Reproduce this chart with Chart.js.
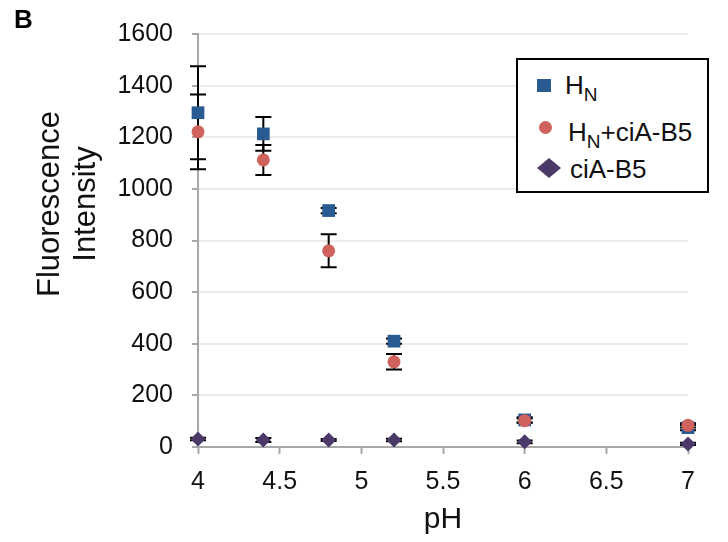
<!DOCTYPE html>
<html lang="en">
<head>
    <meta charset="UTF-8">
    <title>Fluorescence vs pH</title>
    <script src="https://cdn.jsdelivr.net/npm/chart.js"></script>
    <style>
        body {
            margin: 0;
            font-family: "Liberation Sans", Arial, sans-serif;
            background: #fff;
        }

        #wrap {
            position: relative;
            width: 728px;
            height: 542px;
        }

        #chart {
            position: absolute;
            left: 0;
            top: 0;
        }

        #panel {
            position: absolute;
            left: 14px;
            top: 4px;
            font-size: 26px;
            font-weight: bold;
            color: #000;
        }

        #legend {
            position: absolute;
            left: 516px;
            top: 58px;
            width: 189px;
            height: 131px;
            border: 2px solid #000;
            background: #fff;
        }

        .row {
            position: absolute;
            font-size: 26px;
            line-height: 28px;
            color: #111;
            white-space: nowrap;
        }

        .row span.sub {
            font-size: 19px;
            vertical-align: -7px;
        }

        .mark {
            position: absolute;
        }
    </style>
</head>
<body>

    <div id="wrap">
        <canvas id="chart" width="728" height="542"></canvas>
        <div id="panel">B</div>
        <div id="legend">
            <div class="mark" style="left:19px;top:19px;width:14px;height:13px;background:#2a5a92;"></div>
            <div class="row" style="left:47px;top:11px;">H<span class="sub">N</span></div>

            <div class="mark" style="left:21px;top:61px;width:13px;height:13px;border-radius:50%;background:#cf625c;"></div>
            <div class="row" style="left:50px;top:58px;">H<span class="sub">N</span>+ciA-B5</div>

            <div class="mark" style="left:19px;top:98px;width:24px;height:20px;background:#4b3a69;clip-path:polygon(50% 0,100% 50%,50% 100%,0 50%);"></div>
            <div class="row" style="left:52px;top:95px;">ciA-B5</div>
        </div>
    </div>

    <script>
        // pH values
        const phValues = [4, 4.4, 4.8, 5.2, 6, 7];

        // fluorescence intensity per series
        const hnValues = [1295, 1213, 916, 410, 105, 75];
        const hnCiaValues = [1221, 1112, 760, 330, 102, 84];
        const ciaValues = [31, 27, 27, 27, 20, 12];

        // error bar half widths
        const hnErrors = [180, 65, 10, 10, 10, 10];
        const hnCiaErrors = [145, 58, 64, 30, 8, 8];
        const ciaErrors = [5, 8, 4, 5, 5, 4];

        const yTicks = [0, 200, 400, 600, 800, 1000, 1200, 1400, 1600];

        const errorSets = [hnCiaErrors, hnErrors, ciaErrors];

        function toPoints(values) {
            return phValues.map((x, i) => ({ x: x, y: values[i] }));
        }

        // error bars are drawn under the markers
        const errorBars = {
            id: 'errorBars',
            beforeDatasetsDraw(chart) {
                const ctx = chart.ctx;
                const xs = chart.scales.x;
                const ys = chart.scales.y;
                ctx.save();
                ctx.strokeStyle = '#000';
                ctx.lineWidth = 2;
                chart.data.datasets.forEach((ds, d) => {
                    const errs = errorSets[d];
                    ds.data.forEach((p, i) => {
                        const px = xs.getPixelForValue(p.x);
                        const top = ys.getPixelForValue(p.y + errs[i]);
                        const bot = ys.getPixelForValue(p.y - errs[i]);
                        ctx.beginPath();
                        ctx.moveTo(px, top);
                        ctx.lineTo(px, bot);
                        ctx.moveTo(px - 8, top);
                        ctx.lineTo(px + 8, top);
                        ctx.moveTo(px - 8, bot);
                        ctx.lineTo(px + 8, bot);
                        ctx.stroke();
                    });
                });
                ctx.restore();
            }
        };

        // two line rotated y axis title
        const yTitle = {
            id: 'yTitle',
            afterDraw(chart) {
                const ctx = chart.ctx;
                ctx.save();
                ctx.fillStyle = '#111';
                ctx.font = '31px "Liberation Sans", Arial, sans-serif';
                ctx.textAlign = 'center';
                ctx.textBaseline = 'middle';
                ctx.translate(50, 204);
                ctx.rotate(-Math.PI / 2);
                ctx.fillText('Fluorescence', 0, 0);
                ctx.fillText('Intensity', 0, 36);
                ctx.restore();
            }
        };

        const tickFont = { family: '"Liberation Sans", Arial, sans-serif', size: 25 };

        new Chart(document.getElementById('chart').getContext('2d'), {
            type: 'scatter',
            data: {
                datasets: [
                    {
                        label: 'HN+ciA-B5',
                        data: toPoints(hnCiaValues),
                        pointStyle: 'circle',
                        pointRadius: 6.5,
                        backgroundColor: '#cf625c',
                        borderColor: '#cf625c',
                        borderWidth: 0,
                        clip: false
                    },
                    {
                        label: 'HN',
                        data: toPoints(hnValues),
                        pointStyle: 'rect',
                        pointRadius: 9,
                        backgroundColor: '#2a5a92',
                        borderColor: '#2a5a92',
                        borderWidth: 0,
                        clip: false
                    },
                    {
                        label: 'ciA-B5',
                        data: toPoints(ciaValues),
                        pointStyle: 'rectRot',
                        pointRadius: 7.5,
                        backgroundColor: '#4b3a69',
                        borderColor: '#4b3a69',
                        borderWidth: 0,
                        clip: false
                    }
                ]
            },
            options: {
                responsive: false,
                animation: false,
                layout: {
                    padding: { top: 33, right: 40, bottom: 0, left: 0 }
                },
                plugins: {
                    legend: { display: false },
                    tooltip: { enabled: false }
                },
                scales: {
                    x: {
                        type: 'linear',
                        min: 4,
                        max: 7,
                        ticks: {
                            stepSize: 0.5,
                            color: '#111',
                            padding: 13,
                            font: tickFont,
                            callback: v => String(v)
                        },
                        grid: {
                            drawOnChartArea: false,
                            tickLength: 7,
                            tickColor: '#a8a8a8',
                            tickWidth: 2
                        },
                        border: { color: '#a8a8a8', width: 2 },
                        title: {
                            display: true,
                            text: 'pH',
                            color: '#111',
                            padding: { top: 0, bottom: 4 },
                            font: { family: '"Liberation Sans", Arial, sans-serif', size: 30 }
                        },
                        afterFit(scale) {
                            scale.height = 95;
                        }
                    },
                    y: {
                        min: 0,
                        max: 1600,
                        afterBuildTicks(scale) {
                            scale.ticks = yTicks.map(v => ({ value: v }));
                        },
                        ticks: {
                            color: '#111',
                            padding: 19,
                            font: tickFont,
                            callback: v => String(v)
                        },
                        grid: {
                            color: '#ececec',
                            lineWidth: 2,
                            tickLength: 6,
                            tickColor: '#a8a8a8',
                            tickWidth: 2
                        },
                        border: { color: '#a8a8a8', width: 2 },
                        afterFit(scale) {
                            scale.width = 198;
                        }
                    }
                }
            },
            plugins: [errorBars, yTitle]
        });
    </script>

</body>
</html>
